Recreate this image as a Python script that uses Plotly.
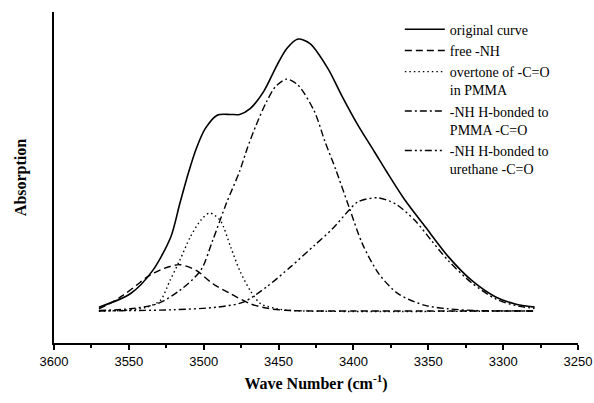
import plotly.graph_objects as go

# ---- data (wavenumber in cm^-1, absorption in arbitrary units) ----
orig_wn = [3570, 3549, 3534, 3522, 3516, 3510, 3505, 3499, 3491, 3482, 3476, 3469, 3460, 3451,
           3444.5, 3437, 3429, 3417, 3408, 3397, 3386, 3378, 3365.5, 3352, 3336.5, 3321, 3305, 3292, 3279]
orig_ab = [3.8, 17.2, 40.5, 73.8, 107, 139, 162, 182, 195.5, 196.2, 196.2, 202, 219, 245.5,
           262, 271.5, 267, 242, 215.5, 185.5, 159, 139.5, 110.5, 84, 54, 30.5, 14, 7, 3.8]

free_wn = [3570, 3563, 3554, 3545, 3538, 3527, 3516, 3505, 3494, 3482, 3469, 3456, 3440, 3400, 3280]
free_ab = [2.2, 7.2, 15.5, 25.5, 33.8, 42.2, 46.2, 40.5, 27.2, 17.2, 7.2, 2.2, 0.3, 0, 0]

over_wn = [3570, 3554, 3538, 3529, 3522.5, 3516, 3509, 3502, 3496, 3489, 3482, 3476, 3469, 3462, 3451, 3440, 3280]
over_ab = [0, 0.5, 3.8, 10.5, 30.5, 50.5, 73.8, 90.5, 97.8, 90.5, 63.8, 40.5, 20.5, 7.2, 2.2, 0.3, 0]

pmma_wn = [3570, 3549, 3531, 3516, 3502, 3494, 3485, 3476, 3471, 3465, 3458, 3452, 3444.5, 3437,
           3426, 3419, 3412, 3403, 3394, 3383, 3370, 3352, 3337, 3320, 3280]
pmma_ab = [0.5, 2.2, 7.2, 20.5, 40.5, 70.5, 107, 139.5, 162, 185.5, 209, 224, 231.5, 225.5,
           199, 169, 142, 104, 67, 37, 17, 5.5, 2.2, 0.5, 0]

ure_wn = [3570, 3520, 3491, 3473.5, 3458, 3442, 3426, 3414, 3403, 3397, 3384, 3372, 3359, 3348,
          3336.5, 3321, 3305, 3292, 3279]
ure_ab = [0, 1.2, 3.8, 8.8, 24, 44, 65.5, 82, 100.5, 109, 113, 107, 90.5, 70.5,
          50, 28, 12, 5.5, 2.5]

x_ticks = [3600, 3550, 3500, 3450, 3400, 3350, 3300, 3250]

series = [
    ("original curve", orig_wn, orig_ab, "solid", 1.6),
    ("free -NH", free_wn, free_ab, "7px,4px", 1.4),
    ("overtone of -C=O<br>in PMMA", over_wn, over_ab, "1.5px,3px", 1.4),
    ("-NH H-bonded to<br>PMMA -C=O", pmma_wn, pmma_ab, "7px,3px,2px,3px", 1.4),
    ("-NH H-bonded to<br>urethane -C=O", ure_wn, ure_ab, "7px,3px,2px,3px,2px,3px", 1.4),
]

fig = go.Figure()
for name, xs, ys, dash, w in series:
    fig.add_trace(go.Scatter(
        x=xs, y=ys, mode="lines", name=name,
        line=dict(color="black", width=w, dash=dash, shape="spline", smoothing=0.8),
    ))

fig.update_layout(
    width=594, height=403,
    margin=dict(l=54, r=16, t=12, b=60),
    paper_bgcolor="white", plot_bgcolor="white",
    showlegend=True,
    legend=dict(
        x=0.66, y=0.995, xanchor="left", yanchor="top",
        font=dict(family="Liberation Serif, Times New Roman, serif", size=14, color="black"),
        bgcolor="rgba(0,0,0,0)", borderwidth=0,
        tracegroupgap=0, valign="top", itemwidth=40,
    ),
    xaxis=dict(
        range=[3600, 3250], tickvals=x_ticks, automargin=False,
        ticks="outside", ticklen=5, tickwidth=1.5, tickcolor="black",
        minor=dict(dtick=25, ticks="outside", ticklen=3, tickwidth=1.5, tickcolor="black"),
        showline=True, linecolor="black", linewidth=1.8,
        showgrid=False, zeroline=False,
        tickfont=dict(family="Liberation Sans, Arial, sans-serif", size=13, color="black"),
        title=dict(text="<b>Wave Number (cm<sup>-1</sup>)</b>", standoff=10,
                   font=dict(family="Liberation Serif, Times New Roman, serif", size=16, color="black")),
    ),
    yaxis=dict(
        range=[-32, 298.5], automargin=False,
        showticklabels=False, ticks="",
        showline=True, linecolor="black", linewidth=1.8,
        showgrid=False, zeroline=False,
        title=dict(text="<b>Absorption</b>", standoff=22,
                   font=dict(family="Liberation Serif, Times New Roman, serif", size=16, color="black")),
    ),
)

fig.write_html("out.html", config={"displayModeBar": False},
               post_script="document.body.style.margin='0px';")
